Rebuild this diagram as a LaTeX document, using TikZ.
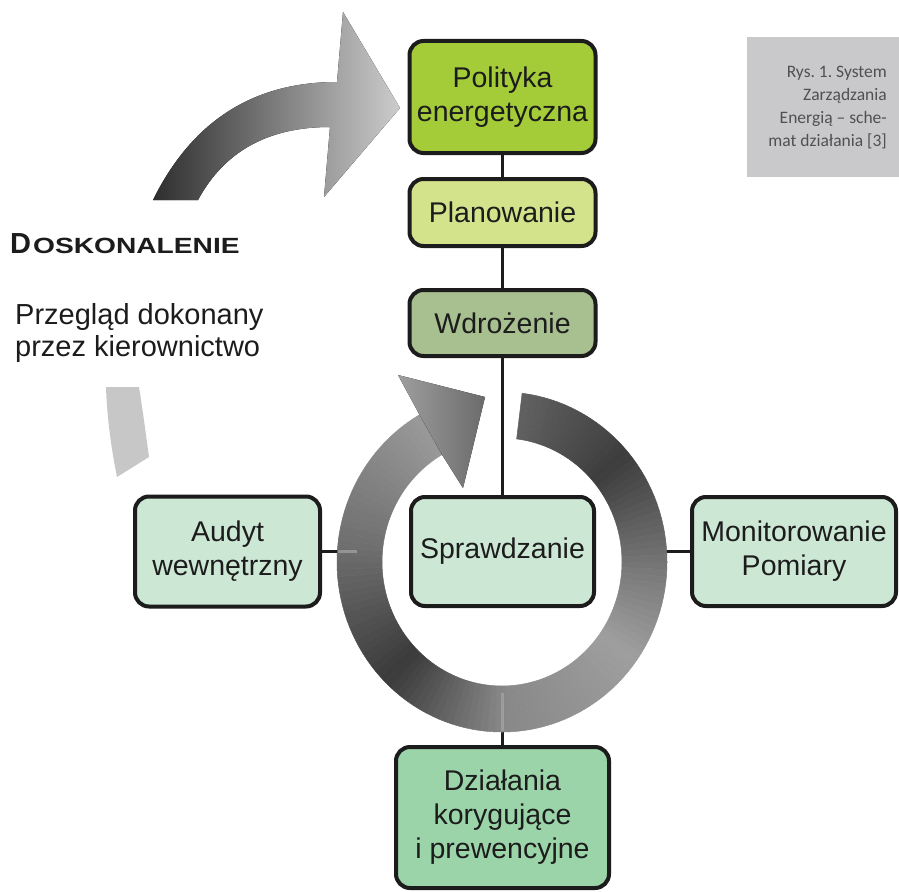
\documentclass[tikz,border=0pt]{standalone}
\usepackage{fontspec}
\usepackage{graphicx}
\setmainfont{Liberation Sans}
\newfontfamily\capfont{Carlito}
\usetikzlibrary{calc}
\definecolor{polc}{HTML}{A4CC39}
\definecolor{planc}{HTML}{D3E38B}
\definecolor{wdrc}{HTML}{A8BF90}
\definecolor{mintc}{HTML}{CDE7D5}
\definecolor{dzic}{HTML}{9CD4AA}
\definecolor{capg}{HTML}{C9C9CB}
\definecolor{capt}{HTML}{505050}
\definecolor{txt}{HTML}{1C1C1C}
% ring segment with angular colour interpolation
\newcommand\ringseg[5]{%
  \foreach \k in {1,...,#5}{%
    \pgfmathsetmacro\aa{#1+(#2-#1)*(\k-1)/#5}%
    \pgfmathsetmacro\ab{#1+(#2-#1)*\k/#5}%
    \pgfmathsetmacro\cc{#3+(#4-#3)*(\k-0.5)/#5}%
    \fill[black!\cc, draw=black!\cc, line width=0.5pt, line join=round]
      ($(C)+(\aa:165 and 170)$) arc[start angle=\aa, end angle=\ab, x radius=165, y radius=170]
      -- ($(C)+(\ab:120 and 124)$) arc[start angle=\ab, end angle=\aa, x radius=120, y radius=124] -- cycle;
  }}
\begin{document}
\begin{tikzpicture}[x=1pt,y=1pt,
  box/.style={draw=txt, line width=4pt, rounded corners=14pt, align=center,
    font=\fontsize{28.5}{34}\selectfont, text=txt, inner sep=0pt},
  conn/.style={line width=2.6pt, draw=txt},
  faint/.style={line width=2.6pt, draw=gray!70, opacity=0.7}]
\useasboundingbox (0,0) rectangle (899,-891);

% top-left curved arrow
\fill[left color=black!82, right color=black!20]
  (153,-200) .. controls (195,-115) and (260,-82) .. (337,-82)
  -- (343,-12) -- (400,-108) -- (324,-197) -- (330,-127)
  .. controls (270,-127) and (225,-150) .. (198,-200) -- cycle;

% faded piece lower left
\fill[black!22] (106,-387) -- (139,-387)
  .. controls (143,-412) and (146,-435) .. (149,-457)
  -- (117,-477) .. controls (111,-447) and (107,-417) .. (106,-387) -- cycle;

% caption background
\fill[capg] (747,-37) rectangle (899,-177);

% boxes
\node[box, fill=polc, minimum width=186, minimum height=112] (pol) at (502.5,-97) {Polityka\\energetyczna};
\node[box, fill=planc, minimum width=186, minimum height=67] (plan) at (502.5,-212.5) {Planowanie};
\node[box, fill=wdrc, minimum width=186, minimum height=66] (wdr) at (502.5,-323) {Wdrożenie};
\node[box, fill=mintc, minimum width=183, minimum height=109] (spr) at (502.5,-551.5) {Sprawdzanie};
\node[box, fill=mintc, minimum width=185, minimum height=110] (aud) at (227.5,-551.5) {Audyt\\wewnętrzny};
\node[box, fill=mintc, minimum width=204, minimum height=109] (mon) at (794,-551.5) {Monitorowanie\\Pomiary};
\node[box, fill=dzic, minimum width=213, minimum height=141] (dzi) at (502.5,-817.5) {Działania\\korygujące\\i prewencyjne};

% connectors
\coordinate (lend) at (357,-551.5);
\coordinate (lring) at (338,-551.5);
\coordinate (rend) at (655,-551.5);
\coordinate (bend) at (502.5,-693);
\coordinate (bring) at (502.5,-731);
\draw[conn] (pol) -- (plan);
\draw[conn] (plan) -- (wdr);
\draw[conn] (wdr) -- (spr);
\draw[conn] (aud.east) -- (lend);
\draw[conn] (mon.west) -- (rend);
\draw[conn] (dzi.north) -- (bend);

% circular arrow
\coordinate (C) at (502,-562);
\ringseg{83}{40}{62}{76}{17}
\ringseg{40}{-5}{76}{52}{18}
\ringseg{-5}{-35}{52}{38}{12}
\ringseg{-35}{-90}{38}{47}{22}
\ringseg{-90}{-135}{47}{77}{18}
\ringseg{-135}{-185}{77}{57}{20}
\ringseg{-185}{-240}{57}{40}{22}
\fill[left color=black!38, right color=black!58]
  ($(C)+(-240:165 and 170)$) -- (398,-375) -- (485,-397) -- (463,-488)
  -- ($(C)+(-240:120 and 124)$) -- cycle;
\draw[faint] (lring) -- (lend);
\draw[faint] (bring) -- (bend);

% texts
\node[anchor=base west, inner sep=0pt, text=txt] (dosk) at (10,-253)
  {\bfseries\fontsize{29}{29}\selectfont D\hspace{2pt}\fontsize{22}{22}\selectfont\scalebox{1.28}[1]{OSKONALENIE}};
\node[anchor=north west, inner sep=0pt, align=left, text=txt,
  font=\fontsize{29}{32}\selectfont] (przeg) at (15,-303) {Przegląd dokonany\\przez kierownictwo};

% caption
\node[anchor=north east, inner sep=0pt, align=right, text=capt,
  font=\capfont\fontsize{17.5}{23}\selectfont] (cap) at (887,-66)
  {Rys.\ 1.\ System\\Zarządzania\\Energią – sche-\\mat działania [3]};
\end{tikzpicture}
\end{document}
